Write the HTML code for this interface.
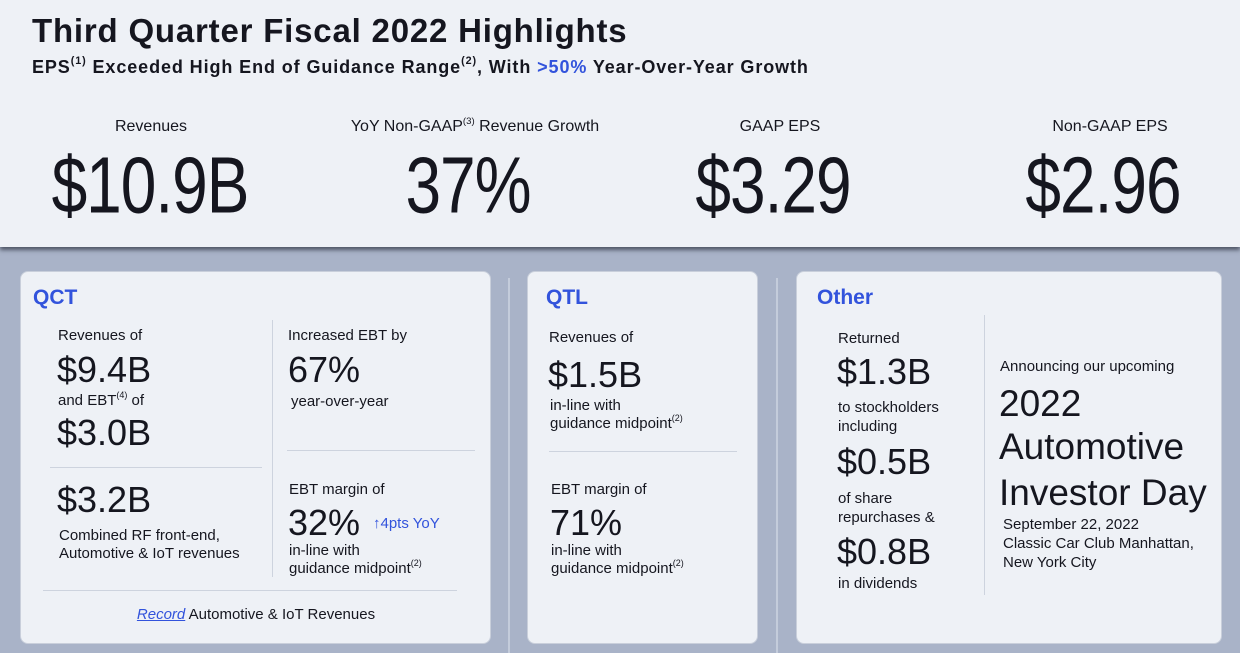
<!DOCTYPE html>
<html><head><meta charset="utf-8"><style>
*{margin:0;padding:0;box-sizing:border-box}
body{width:1240px;height:653px;overflow:hidden;background:#a9b3c8;font-family:"Liberation Sans",sans-serif;color:#15161f;position:relative}
.t{position:absolute;white-space:nowrap;line-height:1}
.c{transform:translateX(-50%)}
.band{position:absolute;left:0;top:0;width:1240px;height:247px;background:#eef1f6;box-shadow:0 3px 4px rgba(40,45,60,.7)}
.card{position:absolute;background:#eef1f6;border:1px solid #c9cfdb;border-radius:8px}
.blue{color:#3253dc}
.hl{position:absolute;height:1px;background:#cdd3de}
.vl{position:absolute;width:1px;background:#cdd3de}
.vs{position:absolute;width:2px;background:#c4ccdb}
sup{font-size:60%;vertical-align:top;position:relative;top:-2px}
.big{font-size:64px;transform:translateX(-50%) scaleY(1.24);letter-spacing:-1px}
.n{font-size:36px}
.s{font-size:15px}
</style></head><body>
<div class="band"></div>
<div class="t" style="left:32px;top:14px;font-size:33px;font-weight:bold;letter-spacing:0.8px">Third Quarter Fiscal 2022 Highlights</div>
<div class="t" style="left:32px;top:58px;font-size:18px;font-weight:bold;letter-spacing:0.9px">EPS<sup>(1)</sup> Exceeded High End of Guidance Range<sup>(2)</sup>, With <span class="blue">&gt;50%</span> Year-Over-Year Growth</div>

<div class="t c" style="left:151px;top:119px;font-size:16px">Revenues</div>
<div class="t c" style="left:475px;top:119px;font-size:16px">YoY Non-GAAP<sup>(3)</sup> Revenue Growth</div>
<div class="t c" style="left:780px;top:119px;font-size:16px">GAAP EPS</div>
<div class="t c" style="left:1110px;top:119px;font-size:16px">Non-GAAP EPS</div>
<div class="t big" style="left:150px;top:153px">$10.9B</div>
<div class="t big" style="left:468px;top:153px">37%</div>
<div class="t big" style="left:773px;top:153px">$3.29</div>
<div class="t big" style="left:1103px;top:153px">$2.96</div>

<div class="card" style="left:20px;top:271px;width:471px;height:373px"></div>
<div class="card" style="left:527px;top:271px;width:231px;height:373px"></div>
<div class="card" style="left:796px;top:271px;width:426px;height:373px"></div>
<div class="vs" style="left:508px;top:278px;height:375px"></div>
<div class="vs" style="left:776px;top:278px;height:375px"></div>

<!-- QCT -->
<div class="t blue" style="left:33px;top:287px;font-size:21px;font-weight:bold">QCT</div>
<div class="t s" style="left:58px;top:328px">Revenues of</div>
<div class="t n" style="left:57px;top:352px">$9.4B</div>
<div class="t s" style="left:58px;top:393px">and EBT<sup>(4)</sup> of</div>
<div class="t n" style="left:57px;top:415px">$3.0B</div>
<div class="hl" style="left:50px;top:467px;width:212px"></div>
<div class="t n" style="left:57px;top:482px">$3.2B</div>
<div class="t s" style="left:59px;top:528px">Combined RF front-end,</div>
<div class="t s" style="left:59px;top:546px">Automotive &amp; IoT revenues</div>
<div class="vl" style="left:272px;top:320px;height:257px"></div>
<div class="t s" style="left:288px;top:328px">Increased EBT by</div>
<div class="t n" style="left:288px;top:352px">67%</div>
<div class="t s" style="left:291px;top:394px">year-over-year</div>
<div class="hl" style="left:287px;top:450px;width:188px"></div>
<div class="t s" style="left:289px;top:482px">EBT margin of</div>
<div class="t n" style="left:288px;top:505px">32%</div>
<div class="t blue" style="left:373px;top:516px;font-size:15px">↑4pts YoY</div>
<div class="t s" style="left:289px;top:543px">in-line with</div>
<div class="t s" style="left:289px;top:561px">guidance midpoint<sup>(2)</sup></div>
<div class="hl" style="left:43px;top:590px;width:414px"></div>
<div class="t c s" style="left:256px;top:607px"><span class="blue" style="font-style:italic;text-decoration:underline">Record</span> Automotive &amp; IoT Revenues</div>

<!-- QTL -->
<div class="t blue" style="left:546px;top:287px;font-size:21px;font-weight:bold">QTL</div>
<div class="t s" style="left:549px;top:330px">Revenues of</div>
<div class="t n" style="left:548px;top:357px">$1.5B</div>
<div class="t s" style="left:550px;top:398px">in-line with</div>
<div class="t s" style="left:550px;top:416px">guidance midpoint<sup>(2)</sup></div>
<div class="hl" style="left:549px;top:451px;width:188px"></div>
<div class="t s" style="left:551px;top:482px">EBT margin of</div>
<div class="t n" style="left:550px;top:505px">71%</div>
<div class="t s" style="left:551px;top:543px">in-line with</div>
<div class="t s" style="left:551px;top:561px">guidance midpoint<sup>(2)</sup></div>

<!-- Other -->
<div class="t blue" style="left:817px;top:287px;font-size:21px;font-weight:bold">Other</div>
<div class="t s" style="left:838px;top:331px">Returned</div>
<div class="t n" style="left:837px;top:354px">$1.3B</div>
<div class="t s" style="left:838px;top:400px">to stockholders</div>
<div class="t s" style="left:838px;top:419px">including</div>
<div class="t n" style="left:837px;top:444px">$0.5B</div>
<div class="t s" style="left:838px;top:491px">of share</div>
<div class="t s" style="left:838px;top:510px">repurchases &amp;</div>
<div class="t n" style="left:837px;top:534px">$0.8B</div>
<div class="t s" style="left:838px;top:576px">in dividends</div>
<div class="vl" style="left:984px;top:315px;height:280px"></div>
<div class="t s" style="left:1000px;top:359px">Announcing our upcoming</div>
<div class="t" style="left:999px;top:385px;font-size:37px">2022</div>
<div class="t" style="left:999px;top:428px;font-size:37px">Automotive</div>
<div class="t" style="left:999px;top:474px;font-size:37px">Investor Day</div>
<div class="t s" style="left:1003px;top:517px">September 22, 2022</div>
<div class="t s" style="left:1003px;top:536px">Classic Car Club Manhattan,</div>
<div class="t s" style="left:1003px;top:555px">New York City</div>
</body></html>
